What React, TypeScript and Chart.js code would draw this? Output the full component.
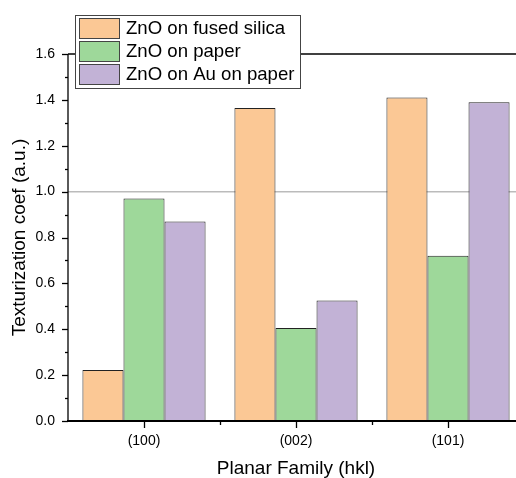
import React, { useEffect, useRef } from "react";
import { Chart, registerables } from "chart.js";

Chart.register(...registerables);

const categories = ["(100)", "(002)", "(101)"];
const seriesNames = ["ZnO on fused silica", "ZnO on paper", "ZnO on Au on paper"];
const fusedSilica = [0.222, 1.365, 1.41];
const paper = [0.97, 0.405, 0.72];
const auOnPaper = [0.87, 0.525, 1.39];
const seriesColors = ["#FBC895", "#9ED89A", "#C2B2D6"];
const yTickLabels = ["0.0", "0.2", "0.4", "0.6", "0.8", "1.0", "1.2", "1.4", "1.6"];
const yMin = 0;
const yMax = 1.6;
const referenceLine = 1.0;

const FONT = "'Liberation Sans', Arial, sans-serif";

const decorPlugin = {
  id: "decor",
  beforeDatasetsDraw(chart: any) {
    const { ctx, chartArea, scales } = chart;
    const y = scales.y;
    ctx.save();
    const ry = y.getPixelForValue(referenceLine);
    ctx.strokeStyle = "#bbbbbb";
    ctx.lineWidth = 1.5;
    ctx.beginPath();
    ctx.moveTo(chartArea.left, ry);
    ctx.lineTo(chartArea.right, ry);
    ctx.stroke();
    ctx.restore();
  },
  afterDraw(chart: any) {
    const { ctx, chartArea, scales } = chart;
    const x = scales.x;
    const y = scales.y;
    ctx.save();
    ctx.strokeStyle = "#000";
    ctx.lineWidth = 1.3;
    // top axis line
    ctx.beginPath();
    ctx.moveTo(chartArea.left, chartArea.top);
    ctx.lineTo(chartArea.right, chartArea.top);
    ctx.stroke();
    // left axis line
    ctx.beginPath();
    ctx.moveTo(chartArea.left, chartArea.top);
    ctx.lineTo(chartArea.left, chartArea.bottom + 1);
    ctx.stroke();
    // bottom axis line
    ctx.lineWidth = 2;
    ctx.beginPath();
    ctx.moveTo(chartArea.left - 1, chartArea.bottom);
    ctx.lineTo(chartArea.right, chartArea.bottom);
    ctx.stroke();
    ctx.lineWidth = 1.3;
    // y ticks
    for (let v = 0; v <= 16; v++) {
      const val = yMin + (v * (yMax - yMin)) / 16;
      const py = Math.round(y.getPixelForValue(val)) + 0.5;
      const len = v % 2 === 0 ? 6 : 3;
      ctx.beginPath();
      ctx.moveTo(chartArea.left, py);
      ctx.lineTo(chartArea.left - len, py);
      ctx.stroke();
    }
    // x ticks
    const n = categories.length;
    for (let i = 0; i < n; i++) {
      const px = Math.round(x.getPixelForValue(i)) + 0.5;
      ctx.beginPath();
      ctx.moveTo(px, chartArea.bottom);
      ctx.lineTo(px, chartArea.bottom + 7);
      ctx.stroke();
    }
    for (let i = 0; i < n - 1; i++) {
      const px =
        Math.round((x.getPixelForValue(i) + x.getPixelForValue(i + 1)) / 2) + 0.5;
      ctx.beginPath();
      ctx.moveTo(px, chartArea.bottom);
      ctx.lineTo(px, chartArea.bottom + 4);
      ctx.stroke();
    }
    // legend
    const lx = 75.5;
    const ly = 15.5;
    const lw = 225;
    const lh = 73;
    ctx.fillStyle = "#fff";
    ctx.fillRect(lx, ly, lw, lh);
    ctx.strokeStyle = "#444";
    ctx.lineWidth = 1;
    ctx.strokeRect(lx, ly, lw, lh);
    ctx.font = "18.6px " + FONT;
    ctx.textBaseline = "middle";
    chart.data.datasets.forEach((ds: any, i: number) => {
      const cy = ly + 12.5 + i * 23;
      ctx.fillStyle = ds.backgroundColor;
      ctx.fillRect(79, cy - 10, 40, 20);
      ctx.strokeStyle = "#444";
      ctx.strokeRect(79.5, cy - 10 + 0.5, 40, 20);
      ctx.fillStyle = "#000";
      ctx.fillText(ds.label, 126, cy + 1);
    });
    ctx.restore();
  },
};

export default function App() {
  const ref = useRef<HTMLCanvasElement | null>(null);
  useEffect(() => {
    if (!ref.current) return;
    const chart = new Chart(ref.current, {
      type: "bar",
      data: {
        labels: categories,
        datasets: [fusedSilica, paper, auOnPaper].map((d, i) => ({
          label: seriesNames[i],
          data: d,
          backgroundColor: seriesColors[i],
          borderColor: "#222",
          borderWidth: 1,
          categoryPercentage: 0.81,
          barPercentage: 1.0,
        })),
      },
      options: {
        responsive: false,
        devicePixelRatio: 1,
        animation: false,
        layout: { padding: { top: 54, right: 6, left: 0, bottom: 0 } },
        plugins: {
          legend: { display: false },
          tooltip: { enabled: false },
        },
        scales: {
          x: {
            type: "category",
            grid: { display: false },
            border: { display: false },
            ticks: { color: "#000", font: { family: FONT, size: 14 }, padding: 4 },
            title: {
              display: true,
              text: "Planar Family (hkl)",
              color: "#000",
              font: { family: FONT, size: 19 },
              padding: { top: 4, bottom: -2 },
            },
            afterFit: (s: any) => {
              s.height = 57;
            },
          },
          y: {
            min: yMin,
            max: yMax,
            grid: { display: false },
            border: { display: false },
            ticks: {
              stepSize: 0.2,
              color: "#000",
              font: { family: FONT, size: 14 },
              padding: 5,
              callback: (_v: any, i: number) => yTickLabels[i],
            },
            title: {
              display: true,
              text: "Texturization coef (a.u.)",
              color: "#000",
              font: { family: FONT, size: 19 },
              padding: { top: 8, bottom: 0 },
            },
            afterFit: (s: any) => {
              s.width = 68;
            },
          },
        },
      },
      plugins: [decorPlugin],
    });
    return () => chart.destroy();
  }, []);
  return (
    <div
      style={{
        position: "fixed",
        left: 0,
        top: 0,
        width: 516,
        height: 478,
        overflow: "hidden",
        background: "#fff",
      }}
    >
      <canvas ref={ref} width={530} height={478} style={{ width: 530, height: 478, display: "block" }} />
    </div>
  );
}
